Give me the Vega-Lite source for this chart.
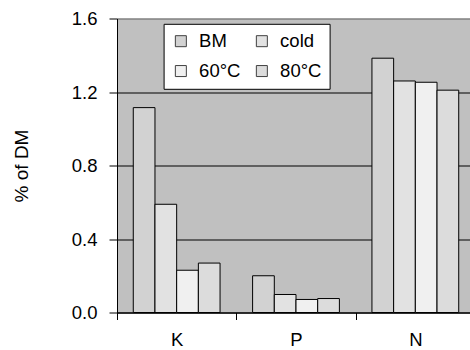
{
  "$schema": "https://vega.github.io/schema/vega-lite/v6.json",
  "width": 358,
  "height": 294,
  "autosize": {"type": "none"},
  "padding": {"left": 117, "top": 18.5, "right": 0, "bottom": 37.5},
  "background": "white",
  "config": {
    "font": "Liberation Sans",
    "view": {"fill": "#c0c0c0", "stroke": "#808080", "strokeWidth": 1}
  },
  "data": {
    "values": [
      {"element": "K", "series": "BM", "value": 1.115},
      {"element": "K", "series": "cold", "value": 0.589},
      {"element": "K", "series": "60°C", "value": 0.23},
      {"element": "K", "series": "80°C", "value": 0.269},
      {"element": "P", "series": "BM", "value": 0.2},
      {"element": "P", "series": "cold", "value": 0.098},
      {"element": "P", "series": "60°C", "value": 0.071},
      {"element": "P", "series": "80°C", "value": 0.076},
      {"element": "N", "series": "BM", "value": 1.384},
      {"element": "N", "series": "cold", "value": 1.26},
      {"element": "N", "series": "60°C", "value": 1.253},
      {"element": "N", "series": "80°C", "value": 1.21}
    ]
  },
  "mark": {"type": "bar", "stroke": "black", "strokeWidth": 1},
  "encoding": {
    "x": {
      "field": "element",
      "type": "nominal",
      "sort": ["K", "P", "N"],
      "scale": {"paddingInner": 0, "paddingOuter": 0},
      "axis": {
        "title": null,
        "labelAngle": 0,
        "tickBand": "extent",
        "domainColor": "black",
        "tickColor": "black",
        "tickSize": 7,
        "labelFontSize": 18.5,
        "labelPadding": 11,
        "labelColor": "black",
        "grid": false
      }
    },
    "xOffset": {
      "field": "series",
      "sort": ["BM", "cold", "60°C", "80°C"],
      "scale": {"paddingInner": 0, "paddingOuter": 0.75}
    },
    "y": {
      "field": "value",
      "type": "quantitative",
      "scale": {"domain": [0, 1.6], "nice": false},
      "axis": {
        "values": [0, 0.4, 0.8, 1.2, 1.6],
        "format": ".1f",
        "title": "% of DM",
        "titleFontSize": 19,
        "titleFontWeight": "normal",
        "titleColor": "black",
        "titleX": -96,
        "titleY": 147,
        "titleAlign": "center",
        "titleBaseline": "middle",
        "titleAngle": 270,
        "labelFontSize": 18.5,
        "labelColor": "black",
        "labelPadding": 12,
        "tickSize": 8,
        "tickColor": "black",
        "domainColor": "black",
        "grid": true,
        "gridColor": {"condition": {"test": "datum.value >= 1.59", "value": "#808080"}, "value": "black"},
        "gridOpacity": 1
      }
    },
    "fill": {
      "field": "series",
      "type": "nominal",
      "sort": ["BM", "cold", "60°C", "80°C"],
      "scale": {"range": ["#d2d2d2", "#e2e2e2", "#f0f0f0", "#dcdcdc"]},
      "legend": {
        "title": null,
        "orient": "none",
        "legendX": 46.6,
        "legendY": 5.3,
        "direction": "horizontal",
        "columns": 2,
        "fillColor": "white",
        "strokeColor": "black",
        "padding": 8,
        "symbolType": "square",
        "symbolSize": 121,
        "symbolStrokeColor": "#404040",
        "symbolStrokeWidth": 1,
        "symbolOpacity": 1,
        "labelFontSize": 18.5,
        "labelColor": "black",
        "labelOffset": 9,
        "columnPadding": 12,
        "rowPadding": 11
      }
    }
  }
}
